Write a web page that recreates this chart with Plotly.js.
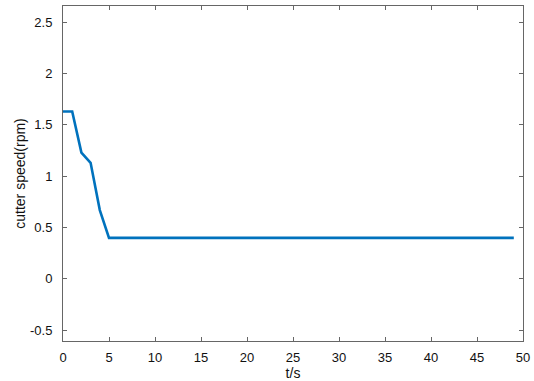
<!DOCTYPE html>
<html>
<head>
<meta charset="utf-8">
<script src="https://cdn.plot.ly/plotly-3.0.1.min.js"></script>
<style>html,body{margin:0;padding:0;background:#fff;}#chart{width:534px;height:381px;}</style>
</head>
<body>
<div id="chart"></div>
<script>
const timeS = [0,1,2,3,4,5,6,7,8,9,10,11,12,13,14,15,16,17,18,19,20,21,22,23,24,25,26,27,28,29,30,31,32,33,34,35,36,37,38,39,40,41,42,43,44,45,46,47,48,49];
const cutterSpeed = [1.63,1.63,1.23,1.13,0.67,0.40,0.40,0.40,0.40,0.40,0.40,0.40,0.40,0.40,0.40,0.40,0.40,0.40,0.40,0.40,0.40,0.40,0.40,0.40,0.40,0.40,0.40,0.40,0.40,0.40,0.40,0.40,0.40,0.40,0.40,0.40,0.40,0.40,0.40,0.40,0.40,0.40,0.40,0.40,0.40,0.40,0.40,0.40,0.40,0.40];
const xTicks = [0,5,10,15,20,25,30,35,40,45,50];
const yTicks = [-0.5,0,0.5,1,1.5,2,2.5];
const yTickText = ['-0.5','0','0.5','1','1.5','2','2.5'];

const fontFam = 'Liberation Sans, Arial, sans-serif';
const axisCommon = {
  showline: true, mirror: 'ticks', linecolor: '#666', linewidth: 1,
  ticks: 'inside', ticklen: 4, tickcolor: '#666', tickwidth: 1,
  showgrid: false, zeroline: false,
  tickfont: {family: fontFam, size: 13, color: '#111'}
};

Plotly.newPlot('chart', [{
  x: timeS, y: cutterSpeed, type: 'scatter', mode: 'lines',
  line: {color: '#0072BD', width: 2.6}, hoverinfo: 'none'
}], {
  width: 534, height: 381,
  margin: {l: 63, r: 11, t: 6, b: 40},
  paper_bgcolor: '#fff', plot_bgcolor: '#fff',
  showlegend: false,
  xaxis: Object.assign({}, axisCommon, {
    range: [0, 50], tickvals: xTicks, ticktext: xTicks.map(String),
    ticklabelstandoff: 4,
    title: {text: 't/s', standoff: 6, font: {family: fontFam, size: 14, color: '#111'}}
  }),
  yaxis: Object.assign({}, axisCommon, {
    range: [-0.604, 2.656], tickvals: yTicks, ticktext: yTickText,
    ticklabelstandoff: 7,
    title: {text: 'cutter speed(rpm)', standoff: 1, font: {family: fontFam, size: 14, color: '#111'}}
  })
}, {staticPlot: true, displayModeBar: false});
</script>
</body>
</html>
